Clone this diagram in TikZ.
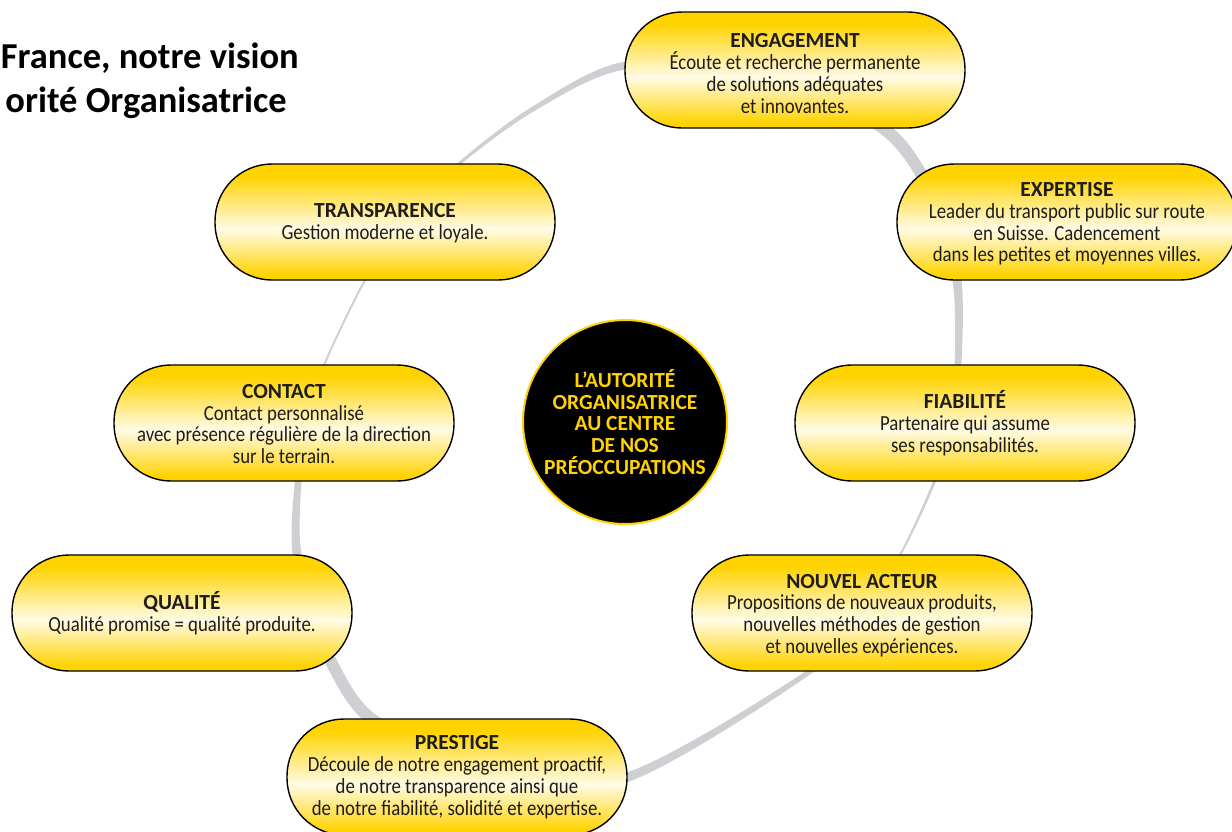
\documentclass[tikz,border=0pt]{standalone}
\usepackage{fontspec}
\setmainfont{Carlito}
\newfontfamily\bodyfont[FakeStretch=0.875]{Carlito}
\definecolor{yelT}{RGB}{255,211,0}
\definecolor{paleY}{RGB}{255,251,230}
\definecolor{ringgray}{RGB}{206,207,210}
\definecolor{ink}{RGB}{30,28,28}
\definecolor{ctryel}{RGB}{255,210,0}
\pgfdeclareverticalshading{capsuleshade}{100bp}{color(0bp)=(yelT); color(27bp)=(yelT); color(47bp)=(paleY); color(70bp)=(yelT); color(100bp)=(yelT)}
\newcommand{\bl}[1]{{\bodyfont #1}}
\tikzset{
  capsule/.style={rectangle, rounded corners=57pt, minimum width=340pt, minimum height=116pt,
    draw=black, line width=1.4pt, shading=capsuleshade, align=center, text=ink,
    font=\fontsize{21.5}{21.8}\selectfont, inner sep=0pt},
  titletext/.style={anchor=base east, font=\fontsize{36.5}{40}\selectfont\bfseries, text=black, inner sep=0pt},
}
\begin{document}
\begin{tikzpicture}[x=1pt,y=-1pt]
\useasboundingbox (0,0) rectangle (1232,831);
% ring (outer and inner outline, variable thickness)
\fill[ringgray, even odd rule]
  plot[smooth cycle] coordinates {(622.9,62.0) (532.3,106.6) (459.2,161.7) (404.3,217.3) (364.1,279.5) (324.0,362.8) (304,423) (294.6,483.6) (291.8,546.5) (302.2,607.7) (325.3,663.7) (369.1,724.5) (487.8,777.6) (625,783) (813.5,672) (861.2,616) (900.9,555.4) (936.5,480.3) (953.5,423) (961.4,364.4) (962.2,288.3) (951.7,229.2) (929.6,176.2) (883.9,121.4) (758.7,65.3)}
  plot[smooth cycle] coordinates {(623.1,70.0) (533.7,111.4) (460.8,164.3) (405.7,218.7) (365.9,280.5) (326.0,363.2) (308,423) (301.4,482.4) (300.2,543.5) (311.8,602.3) (334.7,656.3) (376.9,715.5) (492.2,766.4) (625,773) (810.5,668) (858.8,614) (899.1,554.6) (933.5,479.7) (948.5,423) (954.6,365.6) (953.8,291.7) (942.3,234.8) (920.4,183.8) (876.1,130.6) (755.3,74.7)};
% title
\node[titletext] (t1) at (299,68) {France, notre vision};
\node[titletext] (t2) at (287,112) {orité Organisatrice};
% capsules
\node[capsule] (eng) at (795,70) {\rule{0pt}{21.5pt}\textbf{ENGAGEMENT}\\\bl{Écoute et recherche permanente}\\\bl{de solutions adéquates}\\\bl{et innovantes.}};
\node[capsule] (exp) at (1067,222) {\rule{0pt}{18pt}\textbf{EXPERTISE}\\\bl{Leader du transport public sur route}\\\bl{en Suisse. Cadencement}\\\bl{dans les petites et moyennes villes.}};
\node[capsule] (tra) at (385,222) {\rule{0pt}{16pt}\textbf{TRANSPARENCE}\\\bl{Gestion moderne et loyale.}};
\node[capsule] (con) at (284,423) {\rule{0pt}{16pt}\textbf{CONTACT}\\\bl{Contact personnalisé}\\\bl{avec présence régulière de la direction}\\\bl{sur le terrain.}};
\node[capsule] (fia) at (965,423) {\textbf{FIABILITÉ}\\\bl{Partenaire qui assume}\\\bl{ses responsabilités.}};
\node[capsule] (qua) at (182,613) {\textbf{QUALITÉ}\\\bl{Qualité promise = qualité produite.}};
\node[capsule] (nou) at (862,613) {\rule{0pt}{19pt}\textbf{NOUVEL ACTEUR}\\\bl{Propositions de nouveaux produits,}\\\bl{nouvelles méthodes de gestion}\\\bl{et nouvelles expériences.}};
\node[capsule] (pre) at (457,777) {\textbf{PRESTIGE}\\\bl{Découle de notre engagement proactif,}\\\bl{de notre transparence ainsi que}\\\bl{de notre fiabilité, solidité et expertise.}};
% centre
\node[circle, minimum size=204pt, inner sep=0pt, fill=black, draw=ctryel, line width=2pt,
  text=ctryel, align=center, font=\fontsize{21.5}{21.7}\selectfont\bfseries] (ctr) at (625,422)
  {L'AUTORITÉ\\ORGANISATRICE\\AU CENTRE\\DE NOS\\PRÉOCCUPATIONS};
\end{tikzpicture}
\end{document}
